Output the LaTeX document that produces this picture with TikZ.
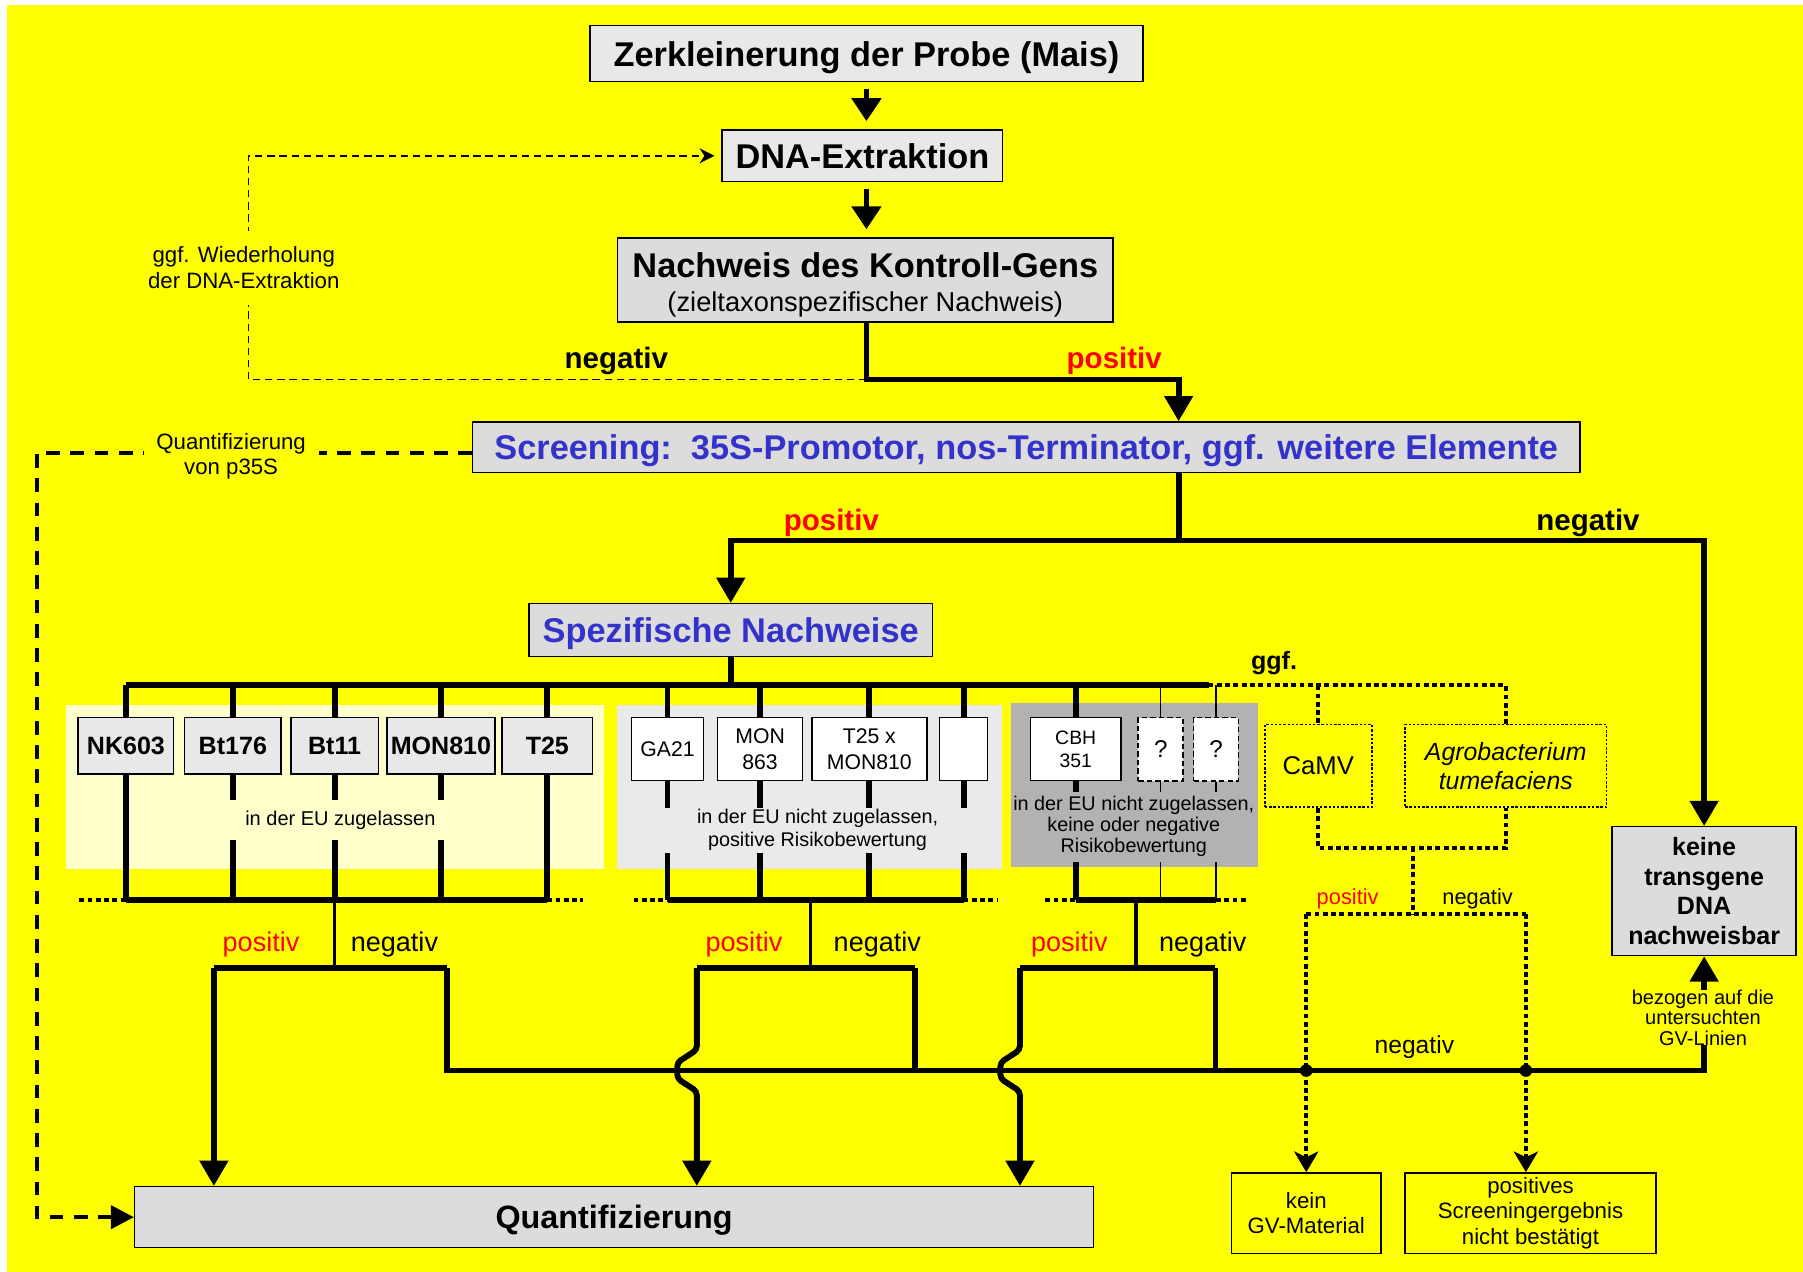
\documentclass[tikz,border=0pt]{standalone}
\usepackage{fontspec}
\setmainfont{Liberation Sans}
\usetikzlibrary{arrows.meta}
\definecolor{bgyellow}{HTML}{FFFF00}
\definecolor{paleyellow}{HTML}{FFFFCC}
\definecolor{palegray}{HTML}{EAEAEA}
\definecolor{midgray}{HTML}{B2B2B2}
\definecolor{boxlight}{HTML}{E8E8E8}
\definecolor{boxgray}{HTML}{DCDCDC}
\definecolor{headblue}{HTML}{3333CC}
\newcommand\fsz[2]{\fontsize{#1}{#2}\selectfont}
\begin{document}
\begin{tikzpicture}[x=0.02cm,y=-0.02cm,
  box/.style={draw,line width=0.7pt,inner sep=0pt,align=center},
  greybox/.style={box,fill=boxgray},
  lightbox/.style={box,fill=boxlight},
  oneline/.style={text height=12.4pt,text depth=0pt},
  gmo/.style={lightbox,minimum height=0.98cm,font=\fsz{12.4}{14}\bfseries},
  evt/.style={box,fill=white,minimum height=1.1cm,font=\fsz{10.5}{12.5}},
  unknown/.style={evt,line width=0.9pt,dash pattern=on 2.6pt off 1.6pt,minimum width=0.78cm,font=\fsz{12}{14}},
  source/.style={draw,line width=0.8pt,dash pattern=on 1.2pt off 0.9pt,inner sep=0pt,align=center,minimum height=1.44cm},
  conn/.style={line width=2.9pt},
  thinconn/.style={line width=1.6pt},
  hair/.style={line width=0.6pt},
  arr/.style={conn,-{Triangle[length=0.44cm,width=0.48cm]}},
  toparr/.style={conn,-{Triangle[length=0.4cm,width=0.5cm]},shorten <=0.12cm,shorten >=0.14cm},
  dotline/.style={line width=2.1pt,dash pattern=on 2.4pt off 1.7pt},
  dotarr/.style={dotline,-{Stealth[length=0.36cm,width=0.42cm,inset=0.1cm]}},
  wdash/.style={line width=0.8pt,dash pattern=on 3.6pt off 2.4pt},
  qdash/.style={line width=2pt,dash pattern=on 6.8pt off 5.2pt},
  tag/.style={inner sep=0pt},
  bigtag/.style={tag,font=\fsz{14.6}{16}\bfseries},
  smalltag/.style={tag,font=\fsz{13.4}{15}},
  cover/.style={inner sep=0pt,align=center}]

\fill[white] (0,0) rectangle (1568,1106);
\fill[bgyellow] (6,4) rectangle (1568,1106);
\useasboundingbox (0,0) rectangle (1568,1106);

\fill[paleyellow] (57,613) rectangle (525,756);
\fill[palegray] (537,613) rectangle (871,756);
\fill[midgray] (879,611) rectangle (1094,754);

\node[lightbox,oneline,minimum width=9.62cm,minimum height=0.98cm,font=\fsz{17}{20}\bfseries] (zerk) at (753.5,46.5) {Zerkleinerung der Probe (Mais)};
\node[lightbox,oneline,minimum width=4.88cm,minimum height=0.9cm,font=\fsz{17}{20}\bfseries] (dna) at (750,135.5) {DNA-Extraktion};
\node[greybox,minimum width=8.62cm,minimum height=1.46cm,font=\fsz{13.5}{17}] (kontr) at (752.5,243.5) {{\fsz{17}{17}\bfseries\rule{0pt}{17.4pt}Nachweis des Kontroll-Gens}\\(zieltaxonspezifischer Nachweis)};
\node[greybox,oneline,minimum width=19.26cm,minimum height=0.88cm,font=\fsz{17}{20}\bfseries,text=headblue] (screen) at (892.5,389) {Screening:~~35S-Promotor, nos-Terminator, ggf. weitere Elemente};
\node[greybox,oneline,minimum width=7.02cm,minimum height=0.92cm,font=\fsz{17}{20}\bfseries,text=headblue] (spez) at (635.5,548) {Spezifische Nachweise};
\node[greybox,minimum width=3.2cm,minimum height=2.24cm,font=\fsz{12.4}{14.6}\bfseries] (keine) at (1482,775) {keine\\transgene\\DNA\\nachweisbar};
\node[greybox,oneline,text height=11.7pt,minimum width=16.68cm,minimum height=1.06cm,font=\fsz{16}{19}\bfseries] (quant) at (534,1058.5) {Quantifizierung};
\node[box,fill=bgyellow,minimum width=2.6cm,minimum height=1.4cm,font=\fsz{11}{12.6}] (kein) at (1136,1055) {kein\\GV-Material};
\node[box,fill=bgyellow,minimum width=4.36cm,minimum height=1.4cm,font=\fsz{11}{12.6}] (posres) at (1331,1055) {positives\\Screeningergebnis\\nicht bestätigt};

\node[gmo,minimum width=1.66cm] (nk603) at (109.5,648.5) {NK603};
\node[gmo,minimum width=1.68cm] (bt176) at (202.5,648.5) {Bt176};
\node[gmo,minimum width=1.52cm] (bt11) at (291,648.5) {Bt11};
\node[gmo,minimum width=1.88cm] (mon810) at (383.5,648.5) {MON810};
\node[gmo,minimum width=1.58cm] (t25) at (476,648.5) {T25};

\node[evt,minimum width=1.26cm] (ga21) at (580.5,651.5) {GA21};
\node[evt,minimum width=1.48cm] (mon863) at (661,651.5) {MON\\863};
\node[evt,minimum width=2cm] (t25mon) at (756,651.5) {T25 x\\MON810};
\node[evt,minimum width=0.84cm] (empty) at (838,651.5) {};
\node[evt,minimum width=1.58cm,font=\fsz{9.6}{11.4}] (cbh) at (935.5,651.5) {CBH\\351};
\node[unknown] (q1) at (1009.5,651.5) {?};
\node[unknown] (q2) at (1057.5,651.5) {?};

\node[source,minimum width=1.86cm,font=\fsz{12.7}{14}] (camv) at (1146.5,666) {CaMV};
\node[source,minimum width=3.5cm,font=\fsz{12.3}{14.2}\itshape] (agro) at (1309.5,666) {Agrobacterium\\tumefaciens};

\coordinate (kpos) at (1025,330);
\coordinate (redo) at (216,135.5);
\coordinate (qrow) at (0,394);
\coordinate (qcorner) at (32,1058.5);
\coordinate (split) at (1025,470);
\coordinate (bus) at (635.5,596);
\coordinate (busend) at (1051,596);
\coordinate (buscorner) at (1309.5,596);
\coordinate (busB) at (0,783);
\coordinate (negline) at (0,931);
\coordinate (negend) at (1482,931);

\draw[toparr] (zerk.south) -- (zerk.south |- dna.north);
\draw[toparr] (dna.south -| zerk.south) -- (kontr.north -| zerk.south);
\draw[arr] (kontr.south -| zerk.south) |- (kpos) -- (kpos |- screen.north);
\draw[wdash,-{Stealth[length=0.26cm,width=0.26cm]},shorten >=0.12cm] (kpos -| zerk.south) -| (redo) -- (dna.west);
\draw[qdash,-{Triangle[length=0.4cm,width=0.4cm]}] (screen.west |- qrow) -| (qcorner) -- (quant.west);

\draw[conn] (split |- screen.south) -- (split);
\draw[arr] (split) -| (spez.north);
\draw[arr] (split) -| (keine.north);

\draw[conn] (spez.south) -- (bus);
\draw[conn] (nk603.north |- bus) -- (busend);
\draw[dotline] (busend) -- (buscorner) -- (agro.north);
\draw[dotline] (camv.north |- bus) -- (camv.north);

\foreach \ev in {nk603,bt176,bt11,mon810,t25,ga21,mon863,t25mon,empty,cbh}
  \draw[conn] (\ev.north |- bus) -- (\ev.north) (\ev.south) -- (\ev.south |- busB);
\foreach \ev in {q1,q2}
  \draw[hair] (\ev.north |- bus) -- (\ev.north) (\ev.south) -- (\ev.south |- busB);

\coordinate (g1a) at (69,783);
\coordinate (g1b) at (507,783);
\coordinate (g2a) at (551,783);
\coordinate (g2b) at (867,783);
\coordinate (g3a) at (909,783);
\coordinate (g3b) at (1084,783);
\draw[conn] (nk603.south |- busB) -- (t25.south |- busB);
\draw[conn] (ga21.south |- busB) -- (empty.south |- busB);
\draw[conn] (cbh.south |- busB) -- (q2.south |- busB);
\draw[dotline] (g1a) -- (nk603.south |- busB) (t25.south |- busB) -- (g1b);
\draw[dotline] (g2a) -- (ga21.south |- busB) (empty.south |- busB) -- (g2b);
\draw[dotline] (g3a) -- (cbh.south |- busB) (q2.south |- busB) -- (g3b);

\coordinate (b1) at (291,842);
\coordinate (b1l) at (186,842);
\coordinate (b1r) at (389,842);
\coordinate (b2) at (705,842);
\coordinate (b2l) at (606,842);
\coordinate (b2r) at (796,842);
\coordinate (b3) at (988,842);
\coordinate (b3l) at (887,842);
\coordinate (b3r) at (1057,842);

\draw[thinconn] (b1 |- busB) -- (b1);
\draw[thinconn] (b2 |- busB) -- (b2);
\draw[thinconn] (b3 |- busB) -- (b3);
\draw[conn] (b1l) -- (b1r);
\draw[conn] (b2l) -- (b2r);
\draw[conn] (b3l) -- (b3r);
\draw[arr] (b1l) -- (b1l |- quant.north);
\draw[arr,rounded corners=2pt] (b2l) -- ++(0,71) -- ++(-17,11) -- ++(0,14) -- ++(17,11) -- (b2l |- quant.north);
\draw[arr,rounded corners=2pt] (b3l) -- ++(0,71) -- ++(-17,11) -- ++(0,14) -- ++(17,11) -- (b3l |- quant.north);
\draw[arr] (b1r) |- (negend) -- (keine.south);
\draw[conn] (b2r) -- (b2r |- negline);
\draw[conn] (b3r) -- (b3r |- negline);

\coordinate (srcmid) at (1229,737);
\coordinate (srcsplit) at (1229,795);
\coordinate (pl) at (1136,795);
\coordinate (pr) at (1327,795);
\draw[dotline] (camv.south) -- ++(0,35) -| (agro.south);
\draw[dotline] (srcmid) -- (srcsplit);
\draw[dotline] (pl) -- (pr);
\draw[dotarr] (pl) -- (kein.north);
\draw[dotarr] (pr) -- (pr |- posres.north);
\fill (pl |- negline) circle (0.11cm);
\fill (pr |- negline) circle (0.11cm);

\node[cover,fill=bgyellow,font=\fsz{11}{12.8},minimum width=3.4cm,minimum height=1.28cm] (redotxt) at (212,233) {ggf. Wiederholung\\der DNA-Extraktion};
\node[cover,fill=bgyellow,font=\fsz{11}{12.5},minimum width=3.04cm] (p35txt) at (201,397) {Quantifizierung\\von p35S};
\node[cover,fill=paleyellow,font=\fsz{9.9}{11},minimum width=4cm,minimum height=0.7cm] (g1txt) at (296,713) {in der EU zugelassen};
\node[cover,fill=palegray,font=\fsz{9.8}{11.4},minimum width=5.6cm,minimum height=0.78cm] (g2txt) at (711,722) {in der EU nicht zugelassen,\\positive Risikobewertung};
\node[cover,fill=midgray,font=\fsz{9.8}{10.4},minimum width=4.2cm,minimum height=1.22cm] (g3txt) at (986,719) {in der EU nicht zugelassen,\\keine oder negative\\Risikobewertung};
\node[cover,fill=bgyellow,font=\fsz{9.9}{10},minimum width=2.5cm] (gvtxt) at (1481,885) {bezogen auf die\\untersuchten\\GV-Linien};

\node[bigtag] (kneg) at (536,314) {negativ};
\node[bigtag,text=red] (kposl) at (969,314) {positiv};
\node[bigtag,text=red] (sposl) at (723,455) {positiv};
\node[bigtag] (snegl) at (1381,455) {negativ};
\node[tag,font=\fsz{12.4}{14}\bfseries] (ggf) at (1108,577) {ggf.};
\node[smalltag,text=red] (p1) at (227,821) {positiv};
\node[smalltag] (n1) at (343,821) {negativ};
\node[smalltag,text=red] (p2) at (647,821) {positiv};
\node[smalltag] (n2) at (763,821) {negativ};
\node[smalltag,text=red] (p3) at (930,821) {positiv};
\node[smalltag] (n3) at (1046,821) {negativ};
\node[tag,font=\fsz{10.8}{12},text=red] (p4) at (1172,782) {positiv};
\node[tag,font=\fsz{10.8}{12}] (n4) at (1285,782) {negativ};
\node[tag,font=\fsz{12.2}{14}] (n5) at (1230,911) {negativ};
\end{tikzpicture}
\end{document}
